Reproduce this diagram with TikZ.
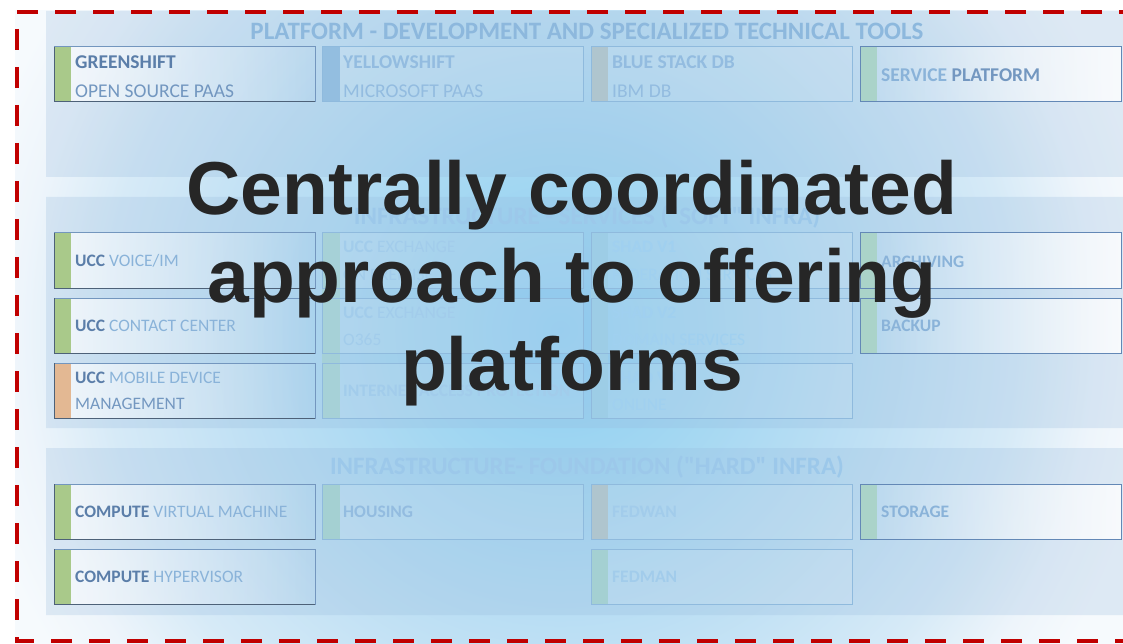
\documentclass[tikz,border=0pt]{standalone}
\usepackage{fontspec}
\setmainfont{Carlito}[Ligatures=TeXOff]
\newfontfamily\headfont{Liberation Sans}
\usetikzlibrary{fadings}

\definecolor{frame}{HTML}{C00000}
\definecolor{glowA}{HTML}{8DCFF3}
\definecolor{glowB}{HTML}{A3D7F2}
\definecolor{glowC}{HTML}{BFE0F4}
\definecolor{glowD}{HTML}{D6EAF7}
\definecolor{glowE}{HTML}{EEF5FB}
\definecolor{glowF}{HTML}{F6FAFD}
\definecolor{panel}{HTML}{96B9DC}
\definecolor{darkline}{HTML}{7396BE}
\definecolor{shadowline}{HTML}{4D6178}
\definecolor{rightline}{HTML}{6388B6}
\definecolor{paleline}{HTML}{8FBADD}
\definecolor{darktext}{HTML}{5B7EA9}
\definecolor{midtext}{HTML}{7397C0}
\definecolor{softtext}{HTML}{8AB3D9}
\definecolor{paletext}{HTML}{93BCE0}
\definecolor{ghosttext}{HTML}{A2CCEB}
\definecolor{faintext}{HTML}{A0D0F0}
\definecolor{headblue}{HTML}{8DB8DD}
\definecolor{headghost}{HTML}{9CC8EA}
\definecolor{leafbar}{HTML}{A9C98A}
\definecolor{rustbar}{HTML}{E3B893}
\definecolor{skybar}{HTML}{93BEE0}
\definecolor{slatebar}{HTML}{AFC5CE}
\definecolor{tealbar}{HTML}{A4D0D2}
\definecolor{mintbar}{HTML}{AAD3C9}
\definecolor{mistbar}{HTML}{9DCDE6}
\definecolor{ink}{HTML}{262626}

\pgfdeclareradialshading{glow}{\pgfpoint{0bp}{0bp}}{color(0bp)=(glowA); color(6.5bp)=(glowB); color(13.5bp)=(glowC); color(19bp)=(glowD); color(22.5bp)=(glowE); color(25bp)=(glowF); color(50bp)=(glowF)}

\tikzstyle{leftglass}=[fill=white, path fading=east, fill opacity=0.7]
\tikzstyle{rightglass}=[fill=white, path fading=west, fill opacity=0.8]
\tikzstyle{midglass}=[fill=white, fill opacity=0.1]
\tikzstyle{darkedge}=[draw=darkline, line width=1pt]
\tikzstyle{shadowedge}=[draw=shadowline, line width=1pt]
\tikzstyle{rightedge}=[draw=rightline, line width=1pt]
\tikzstyle{paleedge}=[draw=paleline, line width=1pt]
\tikzstyle{lab}=[anchor=west, inner sep=0pt, font=\fontsize{17.5}{17.5}\selectfont]
\tikzstyle{biglab}=[anchor=west, inner sep=0pt, font=\fontsize{19.5}{19.5}\selectfont]
\tikzstyle{head}=[inner sep=0pt, font=\bfseries\fontsize{25}{25}\selectfont]

\begin{document}
\begin{tikzpicture}[x=1pt, y=-1pt]
\useasboundingbox (0,0) rectangle (1123,644);
% backdrop and panels
\begin{scope}
\clip (15,11) rectangle (1123,644);
\shade[shading=glow] (-40,-270) rectangle (1160,930);
\end{scope}
\fill[panel, fill opacity=0.25] (46,11) rectangle (1123,177) (46,197) rectangle (1123,428) (46,448) rectangle (1123,615);
\draw[frame, line width=4pt, dash pattern=on 21pt off 17pt] (1140,12) -- (17,12) -- (17,641) -- (1140,641);

% platform row
\fill[leftglass] (54,47) rectangle (315,102); \fill[leafbar] (54,47) rectangle (71,102);
\draw[darkedge] (54,47) rectangle (315,102); \draw[shadowedge] (54,47) -- (54,102) -- (315,102);
\fill[midglass] (322,47) rectangle (583,102); \fill[skybar] (322,47) rectangle (340,102); \draw[paleedge] (322,47) rectangle (583,102);
\fill[midglass] (591,47) rectangle (852,102); \fill[slatebar] (591,47) rectangle (608,102); \draw[paleedge] (591,47) rectangle (852,102);
\fill[rightglass] (860,47) rectangle (1121,102); \fill[mintbar] (860,47) rectangle (877,102); \draw[rightedge] (860,47) rectangle (1121,102);

% services rows
\fill[leftglass] (54,233) rectangle (315,288); \fill[leafbar] (54,233) rectangle (71,288);
\draw[darkedge] (54,233) rectangle (315,288); \draw[shadowedge] (54,233) -- (54,288) -- (315,288);
\fill[leftglass] (54,298) rectangle (315,353); \fill[leafbar] (54,298) rectangle (71,353);
\draw[darkedge] (54,298) rectangle (315,353); \draw[shadowedge] (54,298) -- (54,353) -- (315,353);
\fill[leftglass] (54,363) rectangle (315,418); \fill[rustbar] (54,363) rectangle (71,418);
\draw[darkedge] (54,363) rectangle (315,418); \draw[shadowedge] (54,363) -- (54,418) -- (315,418);
\fill[midglass] (322,233) rectangle (583,288) (322,298) rectangle (583,353) (322,363) rectangle (583,418);
\fill[tealbar, fill opacity=0.8] (322,233) rectangle (340,418);
\draw[paleedge] (322,233) rectangle (583,288) (322,298) rectangle (583,353) (322,363) rectangle (583,418);
\fill[midglass] (591,233) rectangle (852,288) (591,298) rectangle (852,353) (591,363) rectangle (852,418);
\fill[mistbar] (591,233) rectangle (608,418);
\draw[paleedge] (591,233) rectangle (852,288) (591,298) rectangle (852,353) (591,363) rectangle (852,418);
\fill[rightglass] (860,233) rectangle (1121,288); \fill[rightglass] (860,298) rectangle (1121,353);
\fill[mintbar] (860,233) rectangle (877,353);
\draw[rightedge] (860,233) rectangle (1121,288) (860,298) rectangle (1121,353);

% foundation rows
\fill[leftglass] (54,484) rectangle (315,539); \fill[leafbar] (54,484) rectangle (71,539);
\draw[darkedge] (54,484) rectangle (315,539); \draw[shadowedge] (54,484) -- (54,539) -- (315,539);
\fill[leftglass] (54,549) rectangle (315,604); \fill[leafbar] (54,549) rectangle (71,604);
\draw[darkedge] (54,549) rectangle (315,604); \draw[shadowedge] (54,549) -- (54,604) -- (315,604);
\fill[midglass] (322,484) rectangle (583,539); \fill[tealbar] (322,484) rectangle (340,539); \draw[paleedge] (322,484) rectangle (583,539);
\fill[midglass] (591,484) rectangle (852,539); \fill[slatebar] (591,484) rectangle (608,539); \draw[paleedge] (591,484) rectangle (852,539);
\fill[midglass] (591,549) rectangle (852,604); \fill[tealbar] (591,549) rectangle (608,604); \draw[paleedge] (591,549) rectangle (852,604);
\fill[rightglass] (860,484) rectangle (1121,539); \fill[mintbar] (860,484) rectangle (877,539); \draw[rightedge] (860,484) rectangle (1121,539);

% section headings
\node[head, text=headblue] (platform) at (587,31) {PLATFORM - DEVELOPMENT AND SPECIALIZED TECHNICAL TOOLS};
\node[head, text=headghost] (soft) at (587,217) {INFRASTRUCTURE - SERVICES ("SOFT" INFRA)};
\node[head, text=headghost] (hard) at (587,467) {INFRASTRUCTURE- FOUNDATION ("HARD" INFRA)};

% labels
\node[biglab, text=darktext] (greenshift) at (75,62) {\bfseries GREENSHIFT}; \node[biglab, text=midtext] (opensource) at (75,91) {OPEN SOURCE PAAS};
\node[biglab, text=paletext] (yellowshift) at (343,62) {\bfseries YELLOWSHIFT}; \node[biglab, text=paletext] (microsoft) at (343,91) {MICROSOFT PAAS};
\node[biglab, text=paletext] (bluestack) at (612,62) {\bfseries BLUE STACK DB}; \node[biglab, text=paletext] (ibmdb) at (612,91) {IBM DB};
\node[biglab, text=softtext] (serviceplatform) at (881,75) {\bfseries SERVICE \textcolor{midtext}{PLATFORM}};

\node[lab, text=softtext] (voice) at (75,261) {\textcolor{darktext}{\bfseries UCC} VOICE/IM};
\node[lab, text=softtext] (contact) at (75,326) {\textcolor{darktext}{\bfseries UCC} CONTACT CENTER};
\node[lab, text=softtext] (mobile) at (75,378) {\textcolor{darktext}{\bfseries UCC} MOBILE DEVICE}; \node[lab, text=midtext] (management) at (75,404) {MANAGEMENT};
\node[lab, text=ghosttext] (exchangeA) at (343,247) {\bfseries UCC \mdseries EXCHANGE}; \node[lab, text=ghosttext] (premise) at (343,275) {ON PREMISE};
\node[lab, text=ghosttext] (exchangeB) at (343,313) {\bfseries UCC \mdseries EXCHANGE}; \node[lab, text=ghosttext] (office) at (343,340) {O365};
\node[lab, text=ghosttext] (internet) at (343,391) {\bfseries INTERNET ACCESS PROTECTION};
\node[lab, text=faintext] (shadA) at (612,247) {\bfseries SHAD V1}; \node[lab, text=faintext] (federation) at (612,275) {FEDERATION SERVICES};
\node[lab, text=faintext] (shadB) at (612,313) {\bfseries SHAD V2}; \node[lab, text=faintext] (domain) at (612,340) {DOMAIN SERVICES};
\node[lab, text=faintext] (shadC) at (612,378) {\bfseries SHAD V3}; \node[lab, text=faintext] (online) at (612,405) {ONLINE};
\node[lab, text=softtext] (archiving) at (881,262) {\bfseries ARCHIVING};
\node[lab, text=softtext] (backup) at (881,326) {\bfseries BACKUP};

\node[lab, text=softtext] (vm) at (75,512) {\textcolor{darktext}{\bfseries COMPUTE} VIRTUAL MACHINE};
\node[lab, text=softtext] (hypervisor) at (75,577) {\textcolor{darktext}{\bfseries COMPUTE} HYPERVISOR};
\node[lab, text=paletext] (housing) at (343,512) {\bfseries HOUSING};
\node[lab, text=ghosttext] (fedwan) at (612,512) {\bfseries FEDWAN};
\node[lab, text=ghosttext] (fedman) at (612,577) {\bfseries FEDMAN};
\node[lab, text=softtext] (storage) at (881,512) {\bfseries STORAGE};

% overlay statement
\node[align=center, inner sep=0pt, text=ink, font=\headfont\bfseries\fontsize{75}{88}\selectfont] (claim) at (572,283) {Centrally coordinated\\approach to offering\\platforms};
\end{tikzpicture}
\end{document}
